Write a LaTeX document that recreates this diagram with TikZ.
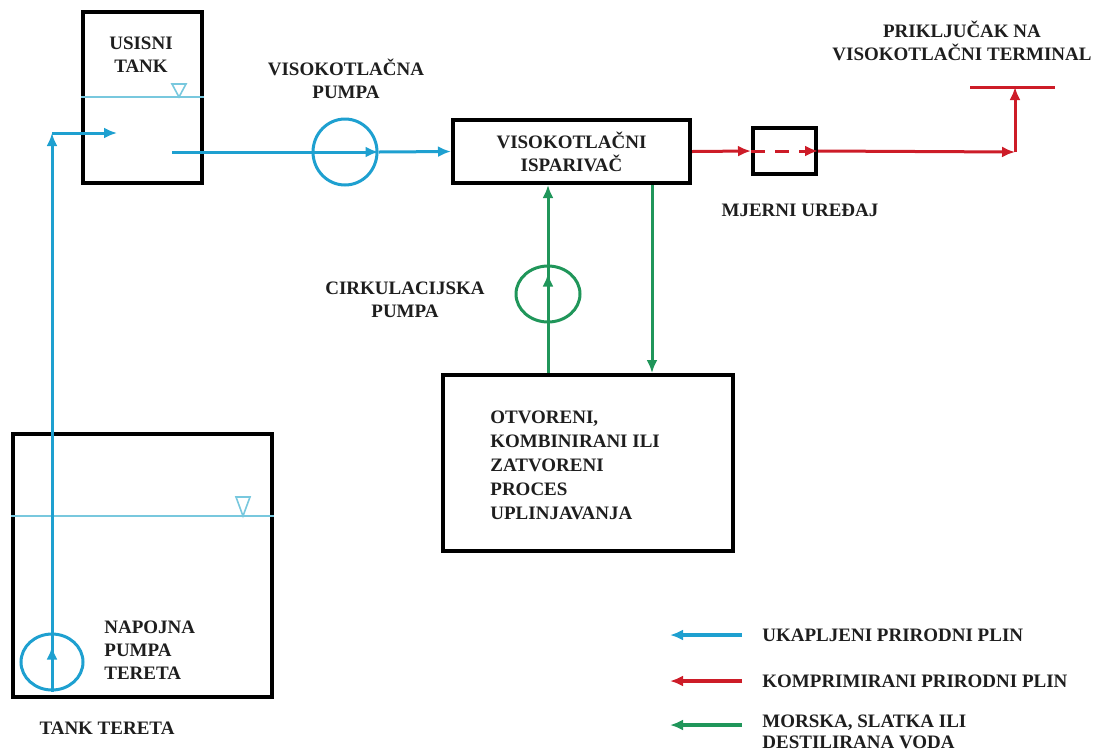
\documentclass[tikz,border=0pt]{standalone}
\usepackage{fontspec}
\setmainfont{Liberation Serif}
\usepackage{tikz}
\usetikzlibrary{calc,positioning,arrows.meta,shapes.geometric}
\definecolor{lngblue}{RGB}{30,160,208}
\definecolor{levelblue}{RGB}{120,200,222}
\definecolor{cngred}{RGB}{205,28,40}
\definecolor{watgreen}{RGB}{32,150,90}
\definecolor{inkgray}{RGB}{30,30,30}
\tikzset{
  >={Latex[length=6.5pt,width=5.5pt]},
  lbl/.style={font=\bfseries\fontsize{9.5}{11.5}\selectfont, text=inkgray, inner sep=1pt},
  tankbox/.style={draw=black, line width=2pt, fill=white, inner sep=0pt},
  pump/.style={ellipse, draw, line width=1.5pt, inner sep=0pt},
  lng/.style={draw=lngblue, line width=1.5pt},
  cng/.style={draw=cngred, line width=1.5pt},
  wat/.style={draw=watgreen, line width=1.5pt},
  level/.style={draw=levelblue, line width=0.8pt},
  legline/.style={line width=2pt, ->}
}
\begin{document}
\begin{tikzpicture}[x=0.5pt,y=-0.5pt]
  \useasboundingbox (0,0) rectangle (1096,751);
  \node[tankbox, minimum width=59.5pt, minimum height=85.5pt] (suction) at (142.5,97.5) {};
  \node[tankbox, minimum width=129.5pt, minimum height=131.5pt] (cargo) at (142.5,565.5) {};
  \node[tankbox, lbl, minimum width=118.5pt, minimum height=31.5pt, align=center] (evap) at (571.5,151.5) {VISOKOTLAČNI\\ISPARIVAČ};
  \node[tankbox, minimum width=31.5pt, minimum height=23pt] (meter) at (784.5,151) {};
  \node[tankbox, minimum width=145pt, minimum height=88pt] (proc) at (588,463) {};
  \draw[level] (suction.west |- 0,97) -- (suction.east |- 0,97);
  \draw[level] (172,84) -- (186,84) -- (179,97) -- cycle;
  \draw[level] (cargo.west |- 0,516) -- (cargo.east |- 0,516);
  \draw[level] (236,497) -- (250,497) -- (243,516) -- cycle;
  \node[pump, draw=lngblue, minimum width=32pt, minimum height=33pt] (hppump) at (345,152) {};
  \node[pump, draw=watgreen, minimum width=32pt, minimum height=28pt] (circpump) at (548,294) {};
  \node[pump, draw=lngblue, minimum width=31pt, minimum height=28pt] (feedpump) at (52,662) {};
  \coordinate (inlet) at (117,133);
  \coordinate (outlet) at (172,152);
  \coordinate (bend) at (1015,152);
  \coordinate (term) at (1015,87);
  \draw[lng,->] (feedpump.south) -- (feedpump.south |- inlet);
  \draw[lng,->] (feedpump.south |- inlet) -- (inlet);
  \draw[lng,->] (feedpump.south) -- ++(0,-45);
  \draw[lng,->] (outlet) -- (hppump.east);
  \draw[lng,->] (hppump.east) -- (evap.west);
  \draw[cng,->] (evap.east) -- (meter.west);
  \draw[cng,->,dash pattern=on 7pt off 5pt] (meter.west) -- (meter.east);
  \draw[cng,->] (meter.east) -- (bend);
  \draw[cng,->] (bend) -- (term);
  \draw[cng] ($(term)+(-45,0)$) -- ($(term)+(40,0)$);
  \draw[wat,->] (proc.north -| circpump.south) -- (evap.south -| circpump.south);
  \draw[wat,->] (circpump.south) -- ++(0,-50);
  \draw[wat,->] (evap.south -| 652,0) -- (proc.north -| 652,0);
  \node[lbl, align=center] (suctiontxt) at (141,55) {USISNI\\TANK};
  \node[lbl, align=center] (hptxt) at (346,79) {VISOKOTLAČNA\\PUMPA};
  \node[lbl] (metertxt) at (800,210) {MJERNI UREĐAJ};
  \node[lbl, align=center] (termtxt) at (962,41) {PRIKLJUČAK NA\\VISOKOTLAČNI TERMINAL};
  \node[lbl, align=center] (circtxt) at (405,300) {CIRKULACIJSKA\\PUMPA};
  \node[lbl, align=left, anchor=west, font=\bfseries\fontsize{9.5}{12}\selectfont] (proctxt) at (488,465) {OTVORENI,\\KOMBINIRANI ILI\\ZATVORENI\\PROCES\\UPLINJAVANJA};
  \node[lbl, align=left, anchor=west] (feedtxt) at (102,650) {NAPOJNA\\PUMPA\\TERETA};
  \node[lbl] (cargotxt) at (107,728) {TANK TERETA};
  \node[lbl, anchor=west] (leg1) at (760,635) {UKAPLJENI PRIRODNI PLIN};
  \node[lbl, anchor=west] (leg2) at (760,681) {KOMPRIMIRANI PRIRODNI PLIN};
  \node[lbl, anchor=north west, align=left, font=\bfseries\fontsize{9.5}{10.5}\selectfont] (leg3) at (760,713) {MORSKA, SLATKA ILI\\DESTILIRANA VODA};
  \draw[legline, draw=lngblue] ($(leg1.west)+(-18,0)$) -- ++(-72,0);
  \draw[legline, draw=cngred] ($(leg2.west)+(-18,0)$) -- ++(-72,0);
  \draw[legline, draw=watgreen] ($(leg3.north west)+(-18,12)$) -- ++(-72,0);
\end{tikzpicture}
\end{document}
